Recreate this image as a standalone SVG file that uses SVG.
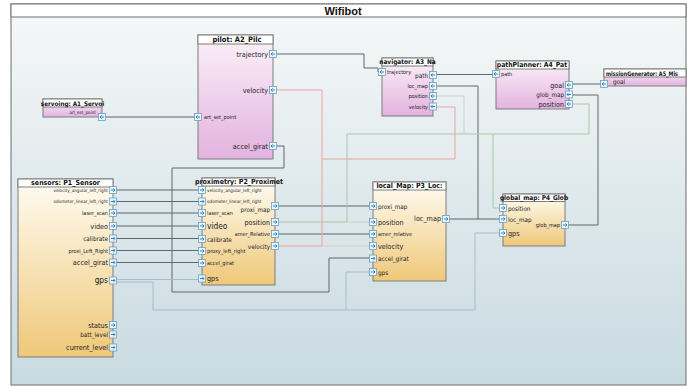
<svg xmlns="http://www.w3.org/2000/svg" xmlns:xlink="http://www.w3.org/1999/xlink" width="687" height="387" viewBox="0 0 687 387">
<defs>
<linearGradient id="bg" x1="0" y1="0" x2="0" y2="1"><stop offset="0" stop-color="#f6f8f8"/><stop offset="1" stop-color="#c8dae1"/></linearGradient>
<linearGradient id="pink" x1="0" y1="0" x2="0" y2="1"><stop offset="0" stop-color="#fbf1f9"/><stop offset="1" stop-color="#e3b2df"/></linearGradient>
<linearGradient id="orng" x1="0" y1="0" x2="0" y2="1"><stop offset="0" stop-color="#fffcf3"/><stop offset="1" stop-color="#efc879"/></linearGradient>
<g id="pr"><rect x="-3.5" y="-3.5" width="7" height="7" fill="#eef5fa" stroke="#6f9dbd" stroke-width="0.8"/><path d="M-2,0H2M0.4,-1.6L2,0L0.4,1.6" fill="none" stroke="#1d8bd1" stroke-width="1"/></g>
<g id="pl"><rect x="-3.5" y="-3.5" width="7" height="7" fill="#eef5fa" stroke="#6f9dbd" stroke-width="0.8"/><path d="M2,0H-2M-0.4,-1.6L-2,0L-0.4,1.6" fill="none" stroke="#1d8bd1" stroke-width="1"/></g>
</defs>
<style>
text{font-family:"Liberation Sans Narrow","DejaVu Sans Condensed","Liberation Sans",sans-serif;fill:#222;dominant-baseline:central}
.ttl{font-weight:bold;font-size:7.5px;text-anchor:middle;fill:#111}
.r{text-anchor:end}
.s4{font-size:4.6px}.s5{font-size:5.5px}.s6{font-size:6.3px}.s7{font-size:7.2px}.s8{font-size:8.3px}
.box{stroke:#7d7d7d;stroke-width:1}
.hd{fill:#ffffff;stroke:#7d7d7d;stroke-width:1}
.w{fill:none;stroke-width:1}
.dk{stroke:#5d686f}
.gr{stroke:#a8c9a1}
.gr2{stroke:#c4d6c6}
.rd{stroke:#e8a5a0}
.rd2{stroke:#e3c6c8}
.bl{stroke:#a9bccc}
</style>
<rect x="11" y="4" width="675" height="381" fill="url(#bg)" stroke="#6e6e6e" stroke-width="1"/>
<rect x="11" y="4" width="675" height="13" fill="#ffffff" stroke="#6e6e6e" stroke-width="1"/>
<text x="343" y="10.5" style="font-family:'Liberation Sans',sans-serif;font-weight:bold;font-size:11px;text-anchor:middle;fill:#111">Wifibot</text>

<g id="connectors">
<path class="w dk" d="M102,117H198"/>
<path class="w dk" d="M273,54H364V68H378V72H382"/>
<path class="w dk" d="M433,74.5H496"/>
<path class="w dk" d="M569,84H604"/>
<path class="w dk" d="M569,95H598V225H565"/>
<path class="w dk" d="M446,219H503"/>
<path class="w dk" d="M478,219V86H433"/>
<path class="w dk" d="M275,206H373"/>
<path class="w dk" d="M275,234H373"/>
<path class="w dk" d="M273,146H284V168H172V292H329V258H373"/>
<path class="w dk" d="M113,190H202M113,201.5H202M113,213H202M113,226H202M113,238.5H202M113,250.5H202M113,262.5H202"/>
<path class="w gr" d="M275,222H347V134H589V104H569"/>
<path class="w gr2" d="M347,222H373"/>
<path class="w gr2" d="M464,134V96H433"/>
<path class="w gr" d="M493,134V208H503"/>
<path class="w rd" d="M275,246H322V90H273"/>
<path class="w rd" d="M322,159H455V107H433"/>
<path class="w rd2" d="M322,246H373"/>
<path class="w bl" d="M113,279.5H202"/>
<path class="w bl" d="M113,282H153V310H475V233H503"/>
<path class="w bl" d="M346,310V272H373"/>
</g>

<g id="servoing">
<rect class="box" x="43" y="99" width="59" height="18" fill="url(#pink)"/>
<rect class="hd" x="43" y="99" width="59" height="8"/>
<text class="ttl" x="72.5" y="103" style="font-size:6.3px">servoing: A1_Servoi</text>
<text class="s4 r" x="96" y="112">art_set_point</text>
<use xlink:href="#pl" x="102" y="117"/>
</g>

<g id="pilot">
<rect class="box" x="198" y="35" width="75" height="124" fill="url(#pink)"/>
<rect class="hd" x="198" y="35" width="75" height="9"/>
<text class="ttl" x="237" y="39.5">pilot: A2_Pilc</text>
<text class="s7 r" x="268" y="54">trajectory</text>
<text class="s7 r" x="268" y="90">velocity</text>
<text class="s5" x="204" y="117">art_set_point</text>
<text class="s7 r" x="268" y="146">accel_girat</text>
<use xlink:href="#pl" x="273" y="54"/>
<use xlink:href="#pl" x="273" y="90"/>
<use xlink:href="#pl" x="198" y="117"/>
<use xlink:href="#pl" x="273" y="146"/>
</g>

<g id="navigator">
<rect class="box" x="382" y="58" width="51" height="58" fill="url(#pink)"/>
<rect class="hd" x="382" y="58" width="51" height="8"/>
<text class="ttl" x="407.5" y="62" style="font-size:6.5px">navigator: A3_Na</text>
<text class="s5" x="387" y="72">trajectory</text>
<text class="s6 r" x="428" y="75">path</text>
<text class="s5 r" x="428" y="86">loc_map</text>
<text class="s5 r" x="428" y="96">position</text>
<text class="s5 r" x="428" y="106.5">velocity</text>
<use xlink:href="#pl" x="382" y="72"/>
<use xlink:href="#pl" x="433" y="75"/>
<use xlink:href="#pl" x="433" y="86"/>
<use xlink:href="#pl" x="433" y="96"/>
<use xlink:href="#pl" x="433" y="106.5"/>
</g>

<g id="pathPlanner">
<rect class="box" x="496" y="61" width="73" height="48" fill="url(#pink)"/>
<rect class="hd" x="496" y="61" width="73" height="8"/>
<text class="ttl" x="532" y="65" style="font-size:6.8px">pathPlanner: A4_Pat</text>
<text class="s5" x="501" y="74">path</text>
<text class="s7 r" x="564" y="85">goal</text>
<text class="s6 r" x="564" y="94.5">glob_map</text>
<text class="s7 r" x="564" y="104">position</text>
<use xlink:href="#pl" x="496" y="74"/>
<use xlink:href="#pl" x="569" y="85"/>
<use xlink:href="#pl" x="569" y="94.5"/>
<use xlink:href="#pl" x="569" y="104"/>
</g>

<g id="missionGenerator">
<rect class="box" x="604" y="69" width="82" height="17" fill="url(#pink)"/>
<rect class="hd" x="604" y="69" width="82" height="8"/>
<text class="ttl" x="606" y="73" textLength="72" lengthAdjust="spacingAndGlyphs" style="font-size:6.2px;text-anchor:start">missionGenerator: A5_Mis</text>
<text class="s6" x="613" y="81.5">goal</text>
<use xlink:href="#pl" x="604" y="84"/>
</g>

<g id="sensors">
<rect class="box" x="18" y="179" width="95" height="178" fill="url(#orng)"/>
<rect class="hd" x="18" y="179" width="95" height="8"/>
<text class="ttl" x="65.5" y="183" style="font-size:7px">sensors: P1_Sensor</text>
<text class="s4 r" x="108" y="190">velocity_angular_left_right</text>
<text class="s4 r" x="108" y="201.5">odometer_linear_left_right</text>
<text class="s5 r" x="108" y="213">laser_scan</text>
<text class="s7 r" x="108" y="226">video</text>
<text class="s6 r" x="108" y="238.5">calibrate</text>
<text class="s5 r" x="108" y="250.5">proxi_Left_Right</text>
<text class="s7 r" x="108" y="262.5">accel_girat</text>
<text class="s8 r" x="108" y="280">gps</text>
<text class="s7 r" x="108" y="325">status</text>
<text class="s6 r" x="108" y="334.5">batt_level</text>
<text class="s7 r" x="108" y="347.5">current_level</text>
<use xlink:href="#pr" x="113" y="190"/>
<use xlink:href="#pr" x="113" y="201.5"/>
<use xlink:href="#pr" x="113" y="213"/>
<use xlink:href="#pr" x="113" y="226"/>
<use xlink:href="#pr" x="113" y="238.5"/>
<use xlink:href="#pr" x="113" y="250.5"/>
<use xlink:href="#pr" x="113" y="262.5"/>
<use xlink:href="#pr" x="113" y="280.5"/>
<use xlink:href="#pr" x="113" y="325"/>
<use xlink:href="#pr" x="113" y="334.5"/>
<use xlink:href="#pr" x="113" y="347.5"/>
</g>

<g id="proximetry">
<rect class="box" x="202" y="178" width="73" height="107" fill="url(#orng)"/>
<rect class="hd" x="202" y="178" width="73" height="8"/>
<text class="ttl" x="239" y="182" style="font-size:7px">proximetry: P2_Proximet</text>
<text class="s4" x="207" y="190">velocity_angular_left_right</text>
<text class="s4" x="207" y="201.5">odometer_linear_left_right</text>
<text class="s5" x="207" y="213">laser_scan</text>
<text class="s8" x="207" y="226">video</text>
<text class="s6" x="207" y="239">calibrate</text>
<text class="s5" x="207" y="251">proxy_left_right</text>
<text class="s5" x="207" y="263">accel_girat</text>
<text class="s7" x="207" y="278.5">gps</text>
<text class="s6 r" x="270" y="209.5">proxi_map</text>
<text class="s7 r" x="270" y="222">position</text>
<text class="s5 r" x="270" y="234">amer_Relative</text>
<text class="s6 r" x="270" y="246">velocity</text>
<use xlink:href="#pr" x="202" y="190"/>
<use xlink:href="#pr" x="202" y="201.5"/>
<use xlink:href="#pr" x="202" y="213"/>
<use xlink:href="#pr" x="202" y="226"/>
<use xlink:href="#pr" x="202" y="239"/>
<use xlink:href="#pr" x="202" y="251"/>
<use xlink:href="#pr" x="202" y="263"/>
<use xlink:href="#pr" x="202" y="278.5"/>
<use xlink:href="#pr" x="275" y="206"/>
<use xlink:href="#pr" x="275" y="222"/>
<use xlink:href="#pr" x="275" y="234"/>
<use xlink:href="#pr" x="275" y="246"/>
</g>

<g id="local_Map">
<rect class="box" x="373" y="182" width="73" height="99" fill="url(#orng)"/>
<rect class="hd" x="373" y="182" width="73" height="8"/>
<text class="ttl" x="409.5" y="186" style="font-size:7px">local_Map: P3_Loc:</text>
<text class="s6" x="378" y="206">proxi_map</text>
<text class="s7" x="378" y="222">position</text>
<text class="s5" x="378" y="234">amer_relative</text>
<text class="s7" x="378" y="246">velocity</text>
<text class="s6" x="378" y="258.5">accel_girat</text>
<text class="s6" x="378" y="272">gps</text>
<text class="s7 r" x="441" y="218.5">loc_map</text>
<use xlink:href="#pr" x="373" y="206"/>
<use xlink:href="#pr" x="373" y="222"/>
<use xlink:href="#pr" x="373" y="234"/>
<use xlink:href="#pr" x="373" y="246"/>
<use xlink:href="#pr" x="373" y="258.5"/>
<use xlink:href="#pr" x="373" y="272"/>
<use xlink:href="#pr" x="446" y="219"/>
</g>

<g id="global_map">
<rect class="box" x="503" y="194" width="62" height="52" fill="url(#orng)"/>
<rect class="hd" x="503" y="194" width="62" height="7.5"/>
<text class="ttl" x="534" y="197.8" style="font-size:6.5px">global_map: P4_Glob</text>
<text class="s6" x="508" y="208">position</text>
<text class="s6" x="508" y="219">loc_map</text>
<text class="s7" x="508" y="233">gps</text>
<text class="s5 r" x="560" y="225">glob_map</text>
<use xlink:href="#pr" x="503" y="208"/>
<use xlink:href="#pr" x="503" y="219"/>
<use xlink:href="#pr" x="503" y="233"/>
<use xlink:href="#pr" x="565" y="225"/>
</g>
</svg>
